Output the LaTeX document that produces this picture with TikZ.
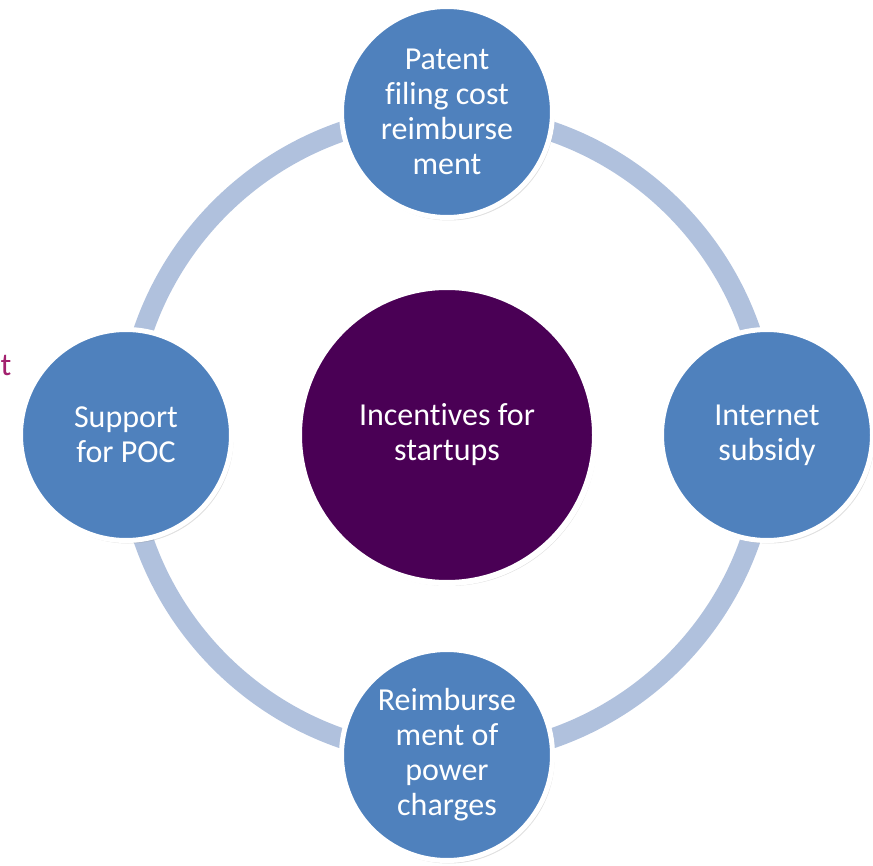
\documentclass[tikz,border=0pt]{standalone}
\usepackage{fontspec}
\setmainfont[Ligatures=NoCommon]{Carlito}
\usetikzlibrary{positioning,shadows}
\definecolor{hubpurple}{HTML}{4A0055}
\definecolor{spokeblue}{HTML}{4F81BD}
\definecolor{ringblue}{HTML}{B0C1DD}
\definecolor{edgetext}{HTML}{A3216F}
\begin{document}
\begin{tikzpicture}[x=1pt,y=-1pt,
    hub/.style={circle,draw=white,line width=6pt,fill=hubpurple,minimum size=296pt,
      text=white,align=center,font=\fontsize{32}{35}\selectfont,
      drop shadow={shadow xshift=2pt,shadow yshift=-3pt,opacity=0.25}},
    spoke/.style={circle,draw=white,line width=5pt,fill=spokeblue,minimum size=211pt,
      text=white,align=center,font=\fontsize{32}{35}\selectfont,inner sep=0pt,
      drop shadow={shadow xshift=2pt,shadow yshift=-3pt,opacity=0.25}}]
  \useasboundingbox (0,0) rectangle (873,866);
  % ring behind everything
  \coordinate (mid) at (447,435);
  \draw[ringblue,line width=20pt] (mid) circle (321pt);
  \node[edgetext,font=\fontsize{32}{35}\selectfont,anchor=west,inner sep=0pt] (cut) at (0.5,366) {t};
  \node[hub] (C) at (mid) {Incentives for\\startups};
  \node[spoke] (P) at (447,112) {Patent\\filing cost\\reimburse\\ment};
  \node[spoke] (I) at (767,435) {Internet\\subsidy};
  \node[spoke] (R) at (447,755) {Reimburse\\ment of\\power\\charges};
  \node[spoke] (S) at (126,435) {Support\\for POC};
\end{tikzpicture}
\end{document}
